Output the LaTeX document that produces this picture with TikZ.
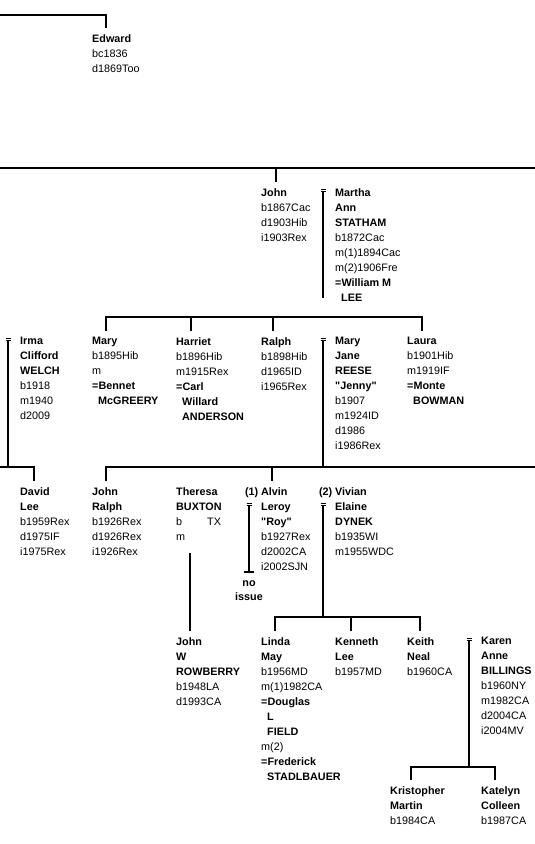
\documentclass[tikz,border=0pt]{standalone}
\usepackage{fontspec}
\setmainfont{Liberation Sans}[Ligatures=TeXOff]

\begin{document}
\begin{tikzpicture}[x=1pt, y=-1pt,
    font=\fontsize{10.8}{15}\selectfont,
    person/.style={anchor=north west, yshift=7.8pt, align=left, inner sep=0pt},
    noiss/.style={anchor=base, align=center, inner sep=0pt,
                  font=\fontsize{10.8}{14}\selectfont\bfseries},
    bar/.style={line width=2pt},
    wed/.style={line width=1pt}]

    \useasboundingbox (0,0) rectangle (535,844);

    % people (at = first baseline)
    \node[person] (edward) at (92,42) {\textbf{Edward}\\bc1836\\d1869Too};

    \node[person] (john)   at (261,196) {\textbf{John}\\b1867Cac\\d1903Hib\\i1903Rex};
    \node[person] (martha) at (335,196) {\textbf{Martha}\\\textbf{Ann}\\\textbf{STATHAM}\\b1872Cac\\m(1)1894Cac\\m(2)1906Fre\\\textbf{=William M}\\\textbf{\hspace*{6pt}LEE}};

    \node[person] (irma)    at (20,345)  {\textbf{Irma}\\\textbf{Clifford}\\\textbf{WELCH}\\b1918\\m1940\\d2009};
    \node[person] (mary)    at (92,345)  {\textbf{Mary}\\b1895Hib\\m\\\textbf{=Bennet}\\\textbf{\hspace*{6pt}McGREERY}};
    \node[person] (harriet) at (176,345) {\textbf{Harriet}\\b1896Hib\\m1915Rex\\\textbf{=Carl}\\\textbf{\hspace*{6pt}Willard}\\\textbf{\hspace*{6pt}ANDERSON}};
    \node[person] (ralph)   at (261,345) {\textbf{Ralph}\\b1898Hib\\d1965ID\\i1965Rex};
    \node[person] (maryj)   at (335,345) {\textbf{Mary}\\\textbf{Jane}\\\textbf{REESE}\\\textbf{"Jenny"}\\b1907\\m1924ID\\d1986\\i1986Rex};
    \node[person] (laura)   at (407,345) {\textbf{Laura}\\b1901Hib\\m1919IF\\\textbf{=Monte}\\\textbf{\hspace*{6pt}BOWMAN}};

    \node[person] (david)   at (20,495)  {\textbf{David}\\\textbf{Lee}\\b1959Rex\\d1975IF\\i1975Rex};
    \node[person] (johnr)   at (92,495)  {\textbf{John}\\\textbf{Ralph}\\b1926Rex\\d1926Rex\\i1926Rex};
    \node[person] (theresa) at (176,495) {\textbf{Theresa}\\\textbf{BUXTON}\\b\hspace*{25pt}TX\\m};
    \node[person] (alvin)   at (261,495) {\textbf{\llap{(1) }Alvin}\\\textbf{Leroy}\\\textbf{"Roy"}\\b1927Rex\\d2002CA\\i2002SJN};
    \node[person] (vivian)  at (335,495) {\textbf{\llap{(2) }Vivian}\\\textbf{Elaine}\\\textbf{DYNEK}\\b1935WI\\m1955WDC};

    \node[person] (johnw)   at (176,645) {\textbf{John}\\\textbf{W}\\\textbf{ROWBERRY}\\b1948LA\\d1993CA};
    \node[person] (linda)   at (261,645) {\textbf{Linda}\\\textbf{May}\\b1956MD\\m(1)1982CA\\\textbf{=Douglas}\\\textbf{\hspace*{6pt}L}\\\textbf{\hspace*{6pt}FIELD}\\m(2)\\\textbf{=Frederick}\\\textbf{\hspace*{6pt}STADLBAUER}};
    \node[person] (kenneth) at (335,645) {\textbf{Kenneth}\\\textbf{Lee}\\b1957MD};
    \node[person] (keith)   at (407,645) {\textbf{Keith}\\\textbf{Neal}\\b1960CA};
    \node[person] (karen)   at (481,645) {\textbf{Karen}\\\textbf{Anne}\\\textbf{BILLINGS}\\b1960NY\\m1982CA\\d2004CA\\i2004MV};

    \node[person] (kristopher) at (390,794) {\textbf{Kristopher}\\\textbf{Martin}\\b1984CA};
    \node[person] (katelyn)    at (481,794) {\textbf{Katelyn}\\\textbf{Colleen}\\b1987CA};

    % free ends of the bars
    \coordinate (w1) at (0,15);
    \coordinate (w2) at (0,168);
    \coordinate (e2) at (535,168);
    \coordinate (w4) at (0,467);
    \coordinate (e4) at (535,467);

    % descent lines
    \draw[bar] (w1) -| ([xshift=14pt,yshift=6.2pt]edward.north west);

    \draw[bar] (w2) -- (e2);
    \draw[bar] ([xshift=15pt,yshift=6.2pt]john.north west) -- ++(0,-14);

    \draw[bar] ([xshift=14pt,yshift=6.2pt]mary.north west) -- ++(0,-14) -| ([xshift=15pt,yshift=6.2pt]laura.north west);
    \foreach \n/\dx in {harriet/15, ralph/12}
      \draw[bar] ([xshift=\dx pt,yshift=6.2pt]\n.north west) -- ++(0,-14);

    \draw[bar] (w4) -| ([xshift=14pt,yshift=6.2pt]david.north west);
    \draw[bar] ([xshift=14pt,yshift=6.2pt]johnr.north west) -- ++(0,-14) -- (e4);
    \draw[bar] ([xshift=11pt,yshift=6.2pt]alvin.north west) -- ++(0,-14);

    \draw[bar] ([xshift=14pt,yshift=6.2pt]johnw.north west) -- ++(0,-78);
    \draw[bar] ([xshift=14pt,yshift=6.2pt]linda.north west) -- ++(0,-14) -| ([xshift=13pt,yshift=6.2pt]keith.north west);
    \draw[bar] ([xshift=16pt,yshift=6.2pt]kenneth.north west) -- ++(0,-14);

    \draw[bar] ([xshift=21pt,yshift=6.2pt]kristopher.north west) -- ++(0,-13) -| ([xshift=14pt,yshift=6.2pt]katelyn.north west);

    % marriage marks and spouse lines
    \foreach \p/\dy/\e in {martha/-2.8/298, maryj/-2.8/467, irma/-2.8/467, alvin/-17.8/572, vivian/-17.8/617, karen/-2.8/767} {
      \coordinate (mk) at ([xshift=-12pt,yshift=\dy pt]\p.north west);
      \draw[wed] ([xshift=-2.5pt,yshift=1.5pt]mk) -- ++(5pt,0)
                 ([xshift=-2.5pt,yshift=-0.5pt]mk) -- ++(5pt,0);
      \draw[bar] ([yshift=-0.5pt]mk) -- (mk |- 0,\e);
    }

    % end of Alvin's line
    \coordinate (alvend) at ([xshift=-12pt]alvin.north west |- 0,572);
    \draw[bar] ([xshift=-5pt]alvend) -- ([xshift=5pt]alvend);
    \node[noiss] (noissue) at ([yshift=-28pt]alvend) {no\\issue};
\end{tikzpicture}
\end{document}
